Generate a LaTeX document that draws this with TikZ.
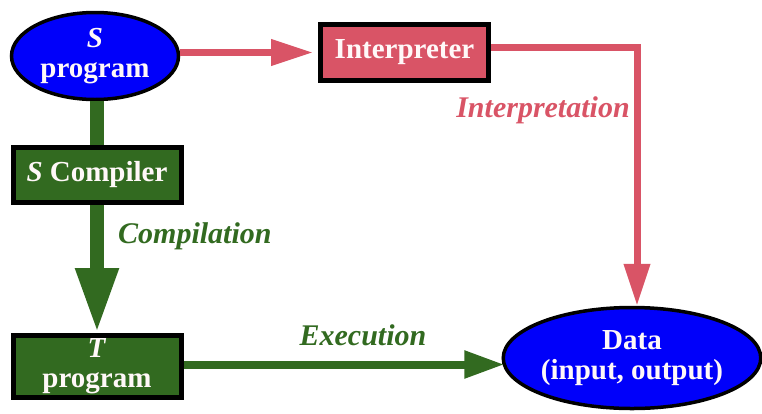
\documentclass[tikz,border=0pt]{standalone}
\usepackage{fontspec}
\setmainfont{Liberation Serif}
\usetikzlibrary{arrows.meta,shapes.geometric}
\definecolor{cgreen}{RGB}{50,106,32}
\definecolor{cred}{RGB}{217,84,102}
\definecolor{cblue}{RGB}{0,0,250}
\definecolor{ctext}{RGB}{255,248,248}
\begin{document}
\begin{tikzpicture}[x=1pt,y=-1pt,
  txt/.style={font=\fontsize{29}{30}\selectfont\bfseries, text=ctext, align=center, inner sep=0pt},
  oval/.style={txt, ellipse, draw=black, line width=3.5pt, fill=cblue},
  gbox/.style={txt, rectangle, draw=black, line width=5pt, fill=cgreen, minimum width=168pt},
  rbox/.style={txt, rectangle, draw=black, line width=5pt, fill=cred, minimum width=168pt},
  lab/.style={font=\fontsize{30}{30}\selectfont\bfseries\itshape, inner sep=0pt},
  redarrow/.style={draw=cred, line width=7pt, -{Triangle[width=25pt,length=42pt]}},
  greenarrow/.style={draw=cgreen, line width=8pt, -{Triangle[width=26pt,length=40pt]}},
  bigarrow/.style={draw=cgreen, line width=14pt, -{Triangle[width=40pt,length=65pt]}}]
\useasboundingbox (0,0) rectangle (762,413);

\node[oval, minimum width=167pt, minimum height=87pt] (sprog) at (95,56) {\textit{S}\\program};
\node[gbox, minimum height=55pt] (scomp) at (97,175) {\textit{S} Compiler};
\node[rbox, minimum height=56pt] (interp) at (404.5,52.5) {Interpreter};
\node[gbox, minimum height=62pt] (tprog) at (97,366.5) {\textit{T}\\program};
\node[oval, minimum width=253pt, minimum height=101pt] (data) at (632,358) {Data\\(input, output)};

\draw[redarrow, shorten >=5pt] (sprog.east |- interp.west) -- (interp.west);
\draw[redarrow] ([yshift=5pt]interp.east) -| ([xshift=5pt]data.north);
\draw[draw=cgreen, line width=14pt] (scomp.north |- sprog.south) -- (scomp.north);
\draw[bigarrow] (scomp.south) -- (tprog.north);
\draw[greenarrow] ([yshift=2pt]tprog.east) -- ([xshift=3pt,yshift=2pt]data.west |- tprog.east);

\node[lab, text=cgreen, anchor=west] (lcomp) at (118,236) {Compilation};
\node[lab, text=cgreen] (lexec) at (363,335) {Execution};
\node[lab, text=cred] (linterp) at (543,110) {Interpretation};
\end{tikzpicture}
\end{document}
